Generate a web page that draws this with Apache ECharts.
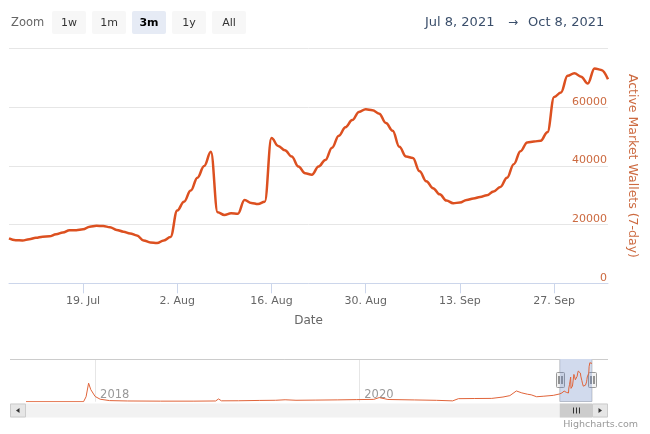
<!DOCTYPE html>
<html><head><meta charset="utf-8">
<script src="https://cdn.jsdelivr.net/npm/echarts@6/dist/echarts.min.js"></script>
<style>html,body{margin:0;padding:0;background:#fff}#c{width:650px;height:434px}</style>
</head><body><div id="c"></div>
<script>
// ---- data ----
const startDate = '2021-07-08';
const walletValues = [
  15300,14700,14600,15000,15500,15900,16000,16700,17300,18100,
  18100,18400,19300,19600,19500,19100,18200,17600,17000,16300,
  14600,13900,13700,14600,15800,24800,27800,31600,36000,40000,
  44800,24200,23300,23900,23700,28400,27400,27000,27800,49500,
  46800,45300,43200,39800,37500,37000,39800,42000,46200,50300,
  53200,55600,58400,59300,59000,57800,54600,52000,46500,43200,
  42700,38200,34800,32400,30300,28200,27300,27500,28400,28900,
  29400,30000,31300,32800,36000,40600,45000,48000,48300,48600,
  51500,63500,65000,70700,71600,70400,68100,73200,72700,69500
];
const tickDates = ['2021-07-19','2021-08-02','2021-08-16','2021-08-30','2021-09-13','2021-09-27'];
const monthNames = ['Jan','Feb','Mar','Apr','May','Jun','Jul','Aug','Sep','Oct','Nov','Dec'];
const yAxisMax = 80000, yAxisStep = 20000;
const navDates = ['2017-06-24','2017-11-30','2017-12-07','2017-12-14','2017-12-20','2018-01-01','2018-01-15','2018-02-10','2018-04-01','2018-07-01','2018-10-01','2018-11-30','2018-12-08','2018-12-16','2019-02-01','2019-04-01','2019-05-15','2019-06-10','2019-07-10','2019-09-01','2019-11-01','2019-12-25','2020-02-10','2020-02-25','2020-03-20','2020-06-01','2020-08-01','2020-09-15','2020-10-01','2020-11-15','2021-01-01','2021-02-01','2021-02-20','2021-03-10','2021-03-25','2021-04-10','2021-04-20','2021-05-05','2021-05-25','2021-06-20','2021-07-07'];
const navValues = [0,0,9000,33600,22000,9500,4500,2000,1300,1000,1000,1300,5000,1600,1700,2300,2600,3500,2600,2900,3300,3800,4200,7500,4000,3200,2500,1500,5500,5800,6000,8500,11000,19500,16000,13500,12500,9000,10000,11500,14000];
const navStart = '2017-06-24';
const navYearTicks = ['2018-01-01','2020-01-01'];
const zoomButtons = ['1w','1m','3m','1y','All'];
const selectedButton = '3m';
const rangeFrom = 'Jul 8, 2021', rangeTo = 'Oct 8, 2021';
const yTitle = 'Active Market Wallets (7-day)';
const xTitle = 'Date';

// ---- build ----
const DAY = 86400000;
const ts = s => { const p = s.split('-').map(Number); return Date.UTC(p[0], p[1]-1, p[2]); };
const t0 = ts(startDate);
const mainData = walletValues.map((v, i) => [t0 + i*DAY, v]);
const tEnd = mainData[mainData.length-1][0];
const navData = navDates.map((d, i) => [ts(d), navValues[i]]).concat(mainData);
const FONT = 'DejaVu Sans';
const LINE = '#dc5020';
const AXTXT = '#cc6a40';

const option = {
  animation: false,
  backgroundColor: '#fff',
  grid: [
    {left: 9, right: 42, top: 48.5, bottom: 434-283.3, outerBoundsMode: 'none', containLabel: false},
    {left: 26, right: 58, top: 359, height: 42.7, outerBoundsMode: 'none', containLabel: false}
  ],
  xAxis: [
    {
      type: 'value', gridIndex: 0, min: t0, max: tEnd, scale: true,
      axisLine: {show: true, lineStyle: {color: '#ccd6eb', width: 1}},
      axisTick: {show: true, length: 10, lineStyle: {color: '#ccd6eb'}, customValues: tickDates.map(ts)},
      splitLine: {show: false},
      axisLabel: {
        customValues: tickDates.map(ts), color: '#666', fontFamily: FONT, fontSize: 11, margin: 12,
        formatter: v => { const d = new Date(v); return d.getUTCDate() + '. ' + monthNames[d.getUTCMonth()]; }
      },
      name: xTitle, nameLocation: 'middle', nameGap: 32,
      nameTextStyle: {color: '#666', fontFamily: FONT, fontSize: 12}
    },
    {
      type: 'value', gridIndex: 1, min: ts(navStart), max: tEnd, scale: true,
      axisLine: {show: false},
      axisTick: {show: false, customValues: navYearTicks.map(ts)},
      splitLine: {show: true, lineStyle: {color: '#e6e6e6', width: 1}},
      axisLabel: {
        customValues: navYearTicks.map(ts), inside: true, align: 'left', verticalAlign: 'bottom',
        margin: 1, padding: [0, 0, 0, 5], color: '#999', fontFamily: FONT, fontSize: 11.5,
        formatter: v => String(new Date(v).getUTCFullYear())
      }
    }
  ],
  yAxis: [
    {
      type: 'value', gridIndex: 0, position: 'right', min: 0, max: yAxisMax, interval: yAxisStep,
      axisLine: {show: false}, axisTick: {show: false},
      splitLine: {show: true, lineStyle: {color: '#e6e6e6', width: 1}},
      axisLabel: {inside: true, margin: 1, verticalAlign: 'bottom', showMaxLabel: false,
        color: AXTXT, fontFamily: FONT, fontSize: 11, formatter: v => String(v)},
      name: yTitle, nameLocation: 'middle', nameRotate: -90, nameGap: 18,
      nameTextStyle: {color: AXTXT, fontFamily: FONT, fontSize: 12.5}
    },
    {
      type: 'value', gridIndex: 1, min: 0, max: 77500,
      axisLine: {show: false}, axisTick: {show: false}, axisLabel: {show: false}, splitLine: {show: false}
    }
  ],
  series: [
    {
      type: 'line', xAxisIndex: 0, yAxisIndex: 0, data: mainData, showSymbol: false,
      smooth: 0.4, smoothMonotone: 'x',
      lineStyle: {color: LINE, width: 2.5}, itemStyle: {color: LINE}
    },
    {
      type: 'line', xAxisIndex: 1, yAxisIndex: 1, data: navData, showSymbol: false,
      lineStyle: {color: '#e0643a', width: 1}, itemStyle: {color: LINE},
      markArea: {silent: true, itemStyle: {color: 'rgba(102,133,194,0.3)'},
        data: [[{xAxis: t0}, {xAxis: tEnd}]]}
    }
  ]
};

const chart = echarts.init(document.getElementById('c'), null, {renderer: 'canvas'});
chart.setOption(option);

const mL = chart.convertToPixel({xAxisIndex: 1}, t0);
const mR = chart.convertToPixel({xAxisIndex: 1}, tEnd);
const g = [];
// range selector
g.push({type: 'text', x: 11, y: 23, style: {text: 'Zoom', fill: '#666', verticalAlign: 'middle', font: '11.5px "' + FONT + '"'}});
zoomButtons.forEach((b, i) => {
  const x = 52 + 40*i, sel = b === selectedButton;
  g.push({type: 'rect', shape: {x: x, y: 11, width: 34, height: 23, r: 2},
    style: {fill: sel ? '#e6ebf5' : '#f7f7f7'}});
  g.push({type: 'text', x: x + 17, y: 23,
    style: {text: b, fill: sel ? '#000' : '#333', align: 'center', verticalAlign: 'middle',
      font: (sel ? 'bold ' : '') + '11px "' + FONT + '"'}});
});
g.push({type: 'text', x: 425, y: 23, style: {text: rangeFrom, fill: '#3b4f6b', verticalAlign: 'middle', font: '13px "' + FONT + '"'}});
g.push({type: 'text', x: 513, y: 23, style: {text: '\u2192', fill: '#3b4f6b', align: 'center', verticalAlign: 'middle', font: '12px "' + FONT + '"'}});
g.push({type: 'text', x: 528, y: 23, style: {text: rangeTo, fill: '#3b4f6b', verticalAlign: 'middle', font: '13px "' + FONT + '"'}});
// scrollbar
const sy = 403.5, sh = 14;
g.push({type: 'rect', shape: {x: 10, y: sy, width: 598, height: sh}, style: {fill: '#f2f2f2'}});
g.push({type: 'rect', shape: {x: mL, y: sy, width: mR - mL, height: sh}, style: {fill: '#cccccc'}});
[-3, 0, 3].forEach(d => g.push({type: 'line', shape: {x1: Math.round((mL+mR)/2) + d + 0.5, y1: sy + 4, x2: Math.round((mL+mR)/2) + d + 0.5, y2: sy + 10}, style: {stroke: '#333', lineWidth: 1}}));
g.push({type: 'rect', shape: {x: 10.5, y: sy + 0.5, width: 15, height: sh - 1}, style: {fill: '#e6e6e6', stroke: '#cccccc', lineWidth: 1}});
g.push({type: 'rect', shape: {x: 592.5, y: sy + 0.5, width: 15, height: sh - 1}, style: {fill: '#e6e6e6', stroke: '#cccccc', lineWidth: 1}});
g.push({type: 'polygon', shape: {points: [[16, sy + 7], [19.5, sy + 4.5], [19.5, sy + 9.5]]}, style: {fill: '#333'}});
g.push({type: 'polygon', shape: {points: [[602, sy + 7], [598.5, sy + 4.5], [598.5, sy + 9.5]]}, style: {fill: '#333'}});
// navigator outline
g.push({type: 'polyline', shape: {points: [[10, 359.5], [mL, 359.5], [mL, 401.5], [mR, 401.5], [mR, 359.5], [608, 359.5]]},
  style: {stroke: '#cccccc', lineWidth: 1, fill: null}});
// handles
[mL, mR].forEach(x => {
  const rx = Math.round(x);
  g.push({type: 'rect', shape: {x: rx - 3.5, y: 372.5, width: 8, height: 15, r: 1}, style: {fill: '#f2f2f2', stroke: '#999999', lineWidth: 1}});
  g.push({type: 'line', shape: {x1: rx - 1, y1: 376, x2: rx - 1, y2: 384}, style: {stroke: '#333', lineWidth: 1}});
  g.push({type: 'line', shape: {x1: rx + 2, y1: 376, x2: rx + 2, y2: 384}, style: {stroke: '#333', lineWidth: 1}});
});
// credits
g.push({type: 'text', x: 638, y: 425, style: {text: 'Highcharts.com', fill: '#999', align: 'right', verticalAlign: 'middle', font: '9.5px "' + FONT + '"'}});
chart.setOption({graphic: g});
</script>
</body></html>
